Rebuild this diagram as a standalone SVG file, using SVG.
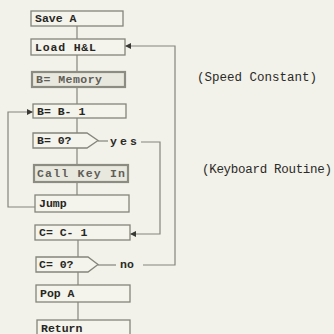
<svg xmlns="http://www.w3.org/2000/svg" width="334" height="334" viewBox="0 0 334 334">
<style>
.bx{fill:#f4f3ec;stroke:#85857c;stroke-width:1.3}
.bx2{fill:#e9e8df;stroke:#8c8c82;stroke-width:2.2}
.t{font-family:"Liberation Mono","DejaVu Sans Mono",monospace;font-weight:bold;font-size:11.5px;fill:#262622}
.tg{fill:#5f5e57}
.n{font-family:"Liberation Mono","DejaVu Sans Mono",monospace;font-size:11.5px;fill:#2a2a26;font-weight:bold}
.m{font-family:"Liberation Mono","DejaVu Sans Mono",monospace;font-size:12.5px;fill:#2a2a26}
.c{fill:none;stroke:#85857c;stroke-width:1.2}
</style>
<defs>
<marker id="ah" viewBox="0 0 10 10" refX="10" refY="5" markerWidth="7" markerHeight="6" orient="auto" markerUnits="userSpaceOnUse">
<path d="M0,0 L10,5 L0,10 z" fill="#3a3a34"/>
</marker>
</defs>
<rect width="334" height="334" fill="#f2f1ea"/>
<g id="connectors">
<line class="c" x1="77" y1="26" x2="77" y2="39"/>
<line class="c" x1="77" y1="55" x2="77" y2="72"/>
<line class="c" x1="77" y1="87" x2="77" y2="104"/>
<line class="c" x1="77" y1="118" x2="77" y2="133"/>
<line class="c" x1="77" y1="148" x2="77" y2="165"/>
<line class="c" x1="77" y1="182" x2="77" y2="195"/>
<line class="c" x1="78" y1="240" x2="78" y2="257"/>
<line class="c" x1="78" y1="272" x2="78" y2="285"/>
<line class="c" x1="78" y1="302" x2="78" y2="320"/>
<polyline class="c" points="35,207 8,207 8,112 33,112" marker-end="url(#ah)"/>
<line class="c" x1="98" y1="141" x2="108" y2="141"/>
<polyline class="c" points="141,142 160,142 160,234 130,234" marker-end="url(#ah)"/>
<line class="c" x1="98" y1="265" x2="116" y2="265"/>
<polyline class="c" points="143,265 175,265 175,46 125,46" marker-end="url(#ah)"/>
<text class="n" x="110" y="145" textLength="27">yes</text>
<text class="n" x="120" y="268">no</text>
</g>
<g id="save-a"><rect class="bx" x="31" y="11" width="92" height="15"/><text class="t" x="35" y="22">Save A</text></g>
<g id="load-hl"><rect class="bx" x="31" y="39" width="94" height="16"/><text class="t" x="35" y="51" textLength="61">Load H&amp;L</text></g>
<g id="b-memory"><rect class="bx2" x="32" y="72" width="93" height="15"/><text class="t tg" x="36" y="83" textLength="66">B= Memory</text></g>
<g id="b-dec"><rect class="bx" x="33" y="104" width="93" height="14"/><text class="t" x="37" y="115">B= B- 1</text></g>
<g id="b-zero"><polygon class="bx" points="33,133 87,133 98,140.5 87,148 33,148"/><text class="t" x="37" y="144">B=  0?</text></g>
<g id="call-key"><rect class="bx2" x="34" y="165" width="94" height="17"/><text class="t tg" x="37" y="177" textLength="88">Call Key In</text></g>
<g id="jump"><rect class="bx" x="35" y="195" width="94" height="17"/><text class="t" x="39" y="207">Jump</text></g>
<g id="c-dec"><rect class="bx" x="35" y="225" width="95" height="15"/><text class="t" x="39" y="236">C= C- 1</text></g>
<g id="c-zero"><polygon class="bx" points="36,257 88,257 98,264.5 88,272 36,272"/><text class="t" x="39" y="268">C=  0?</text></g>
<g id="pop-a"><rect class="bx" x="36" y="285" width="94" height="17"/><text class="t" x="40" y="297">Pop A</text></g>
<g id="return"><rect class="bx" x="37" y="320" width="93" height="20"/><text class="t" x="41" y="332">Return</text></g>
<g id="notes">
<text class="m" x="197" y="81" textLength="120">(Speed Constant)</text>
<text class="m" x="202" y="173" textLength="130">(Keyboard Routine)</text>
</g>
</svg>
